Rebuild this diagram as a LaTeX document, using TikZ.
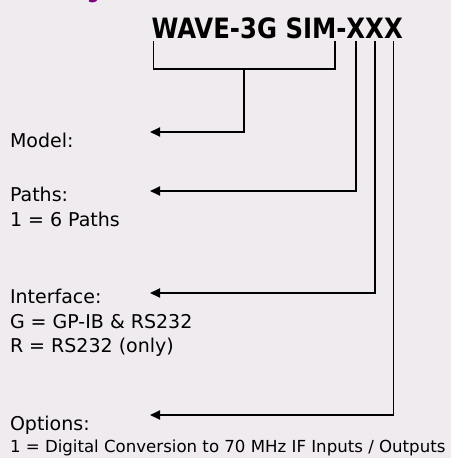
\documentclass[tikz,border=0pt]{standalone}
\usepackage{fontspec}
\setmainfont{DejaVu Sans}
\newfontfamily\codefont{DejaVu Sans}[FakeStretch=0.87]
\usetikzlibrary{arrows.meta, positioning, calc}

\begin{document}
\begin{tikzpicture}[
    x=1pt, y=-1pt,
    every node/.style={inner sep=0pt, outer sep=0pt},
    code/.style={font=\codefont\fontsize{28}{30}\selectfont\bfseries, anchor=base west},
    lbl/.style={font=\fontsize{19}{25}\selectfont, text=black, anchor=base west},
    small/.style={lbl, font=\fontsize{16.6}{20}\selectfont},
    lead/.style={line width=1.8pt, draw=black},
    tip/.style={lead, -{Triangle[length=10pt, width=9pt]}},
]

% ---------------------------------------------------------------- colours
\definecolor{bgcolor}{RGB}{239,235,238}
\definecolor{headcolor}{RGB}{128,0,128}

\useasboundingbox (0,0) rectangle (451,458);
\fill[bgcolor] (0,0) rectangle (451,458);

% heading is cut off above the frame, only the tail of its g shows
\begin{scope}
    \clip (0,0) rectangle (451,458);
    \node[font=\codefont\fontsize{20}{22}\selectfont\bfseries, text=headcolor, anchor=base west]
        (headg) at (87,-1.5) {g};
\end{scope}

% ================================================================
% part number, one node per field so the leads can hang off it
%   baseline y = 38.5
%   arrow tips x = 150
% ================================================================

\node[code] (prefix) at (151.5, 38.5) {WAVE-3G SIM};
\node[code] (dash) at (prefix.base east) {-};
\node[code] (x1) at (dash.base east) {X};
\node[code] (x2) at (x1.base east) {X};
\node[code] (x3) at (x2.base east) {X};

% ---------------------------------------------------------------- labels
% name / baseline / text
\foreach \n/\y/\t in {%
    model/147/{Model:},
    paths/201/{Paths:},
    pathsone/226.5/{1 = 6 Paths},
    iface/303.3/{Interface:},
    ifaceg/328.3/{G = GP-IB \& RS232},
    ifacer/352.7/{R = RS232 (only)},
    opts/430/{Options:}%
} {
    \node[lbl] (\n) at (10, \y) {\t};
}
% the long option line is set smaller so it fits the width
\node[small] (optsone) at (10, 452.7) {1 = Digital Conversion to 70 MHz IF Inputs / Outputs};

% where the leads end
\coordinate (tmodel) at (150, 132);
\coordinate (tpaths) at (150, 191);
\coordinate (tiface) at (150, 293);
\coordinate (topts)  at (150, 415);

% bracket under the model name
\coordinate (bl) at ([xshift=2pt, yshift=-2.5pt]prefix.south west);
\coordinate (br) at ([xshift=-1.5pt, yshift=-2.5pt]prefix.south east);
\draw[lead] (bl) -- ++(0,28) -| (br);
\coordinate (stem) at ($(bl)!0.5!(br) + (0,28)$);
\draw[tip] (stem) |- (tmodel);

% one lead per X
\draw[tip] ([yshift=-2.5pt]x1.south) |- (tpaths);
\draw[tip] ([yshift=-2.5pt]x2.south) |- (tiface);
\draw[tip] ([yshift=-2.5pt]x3.south) |- (topts);

\end{tikzpicture}
\end{document}
